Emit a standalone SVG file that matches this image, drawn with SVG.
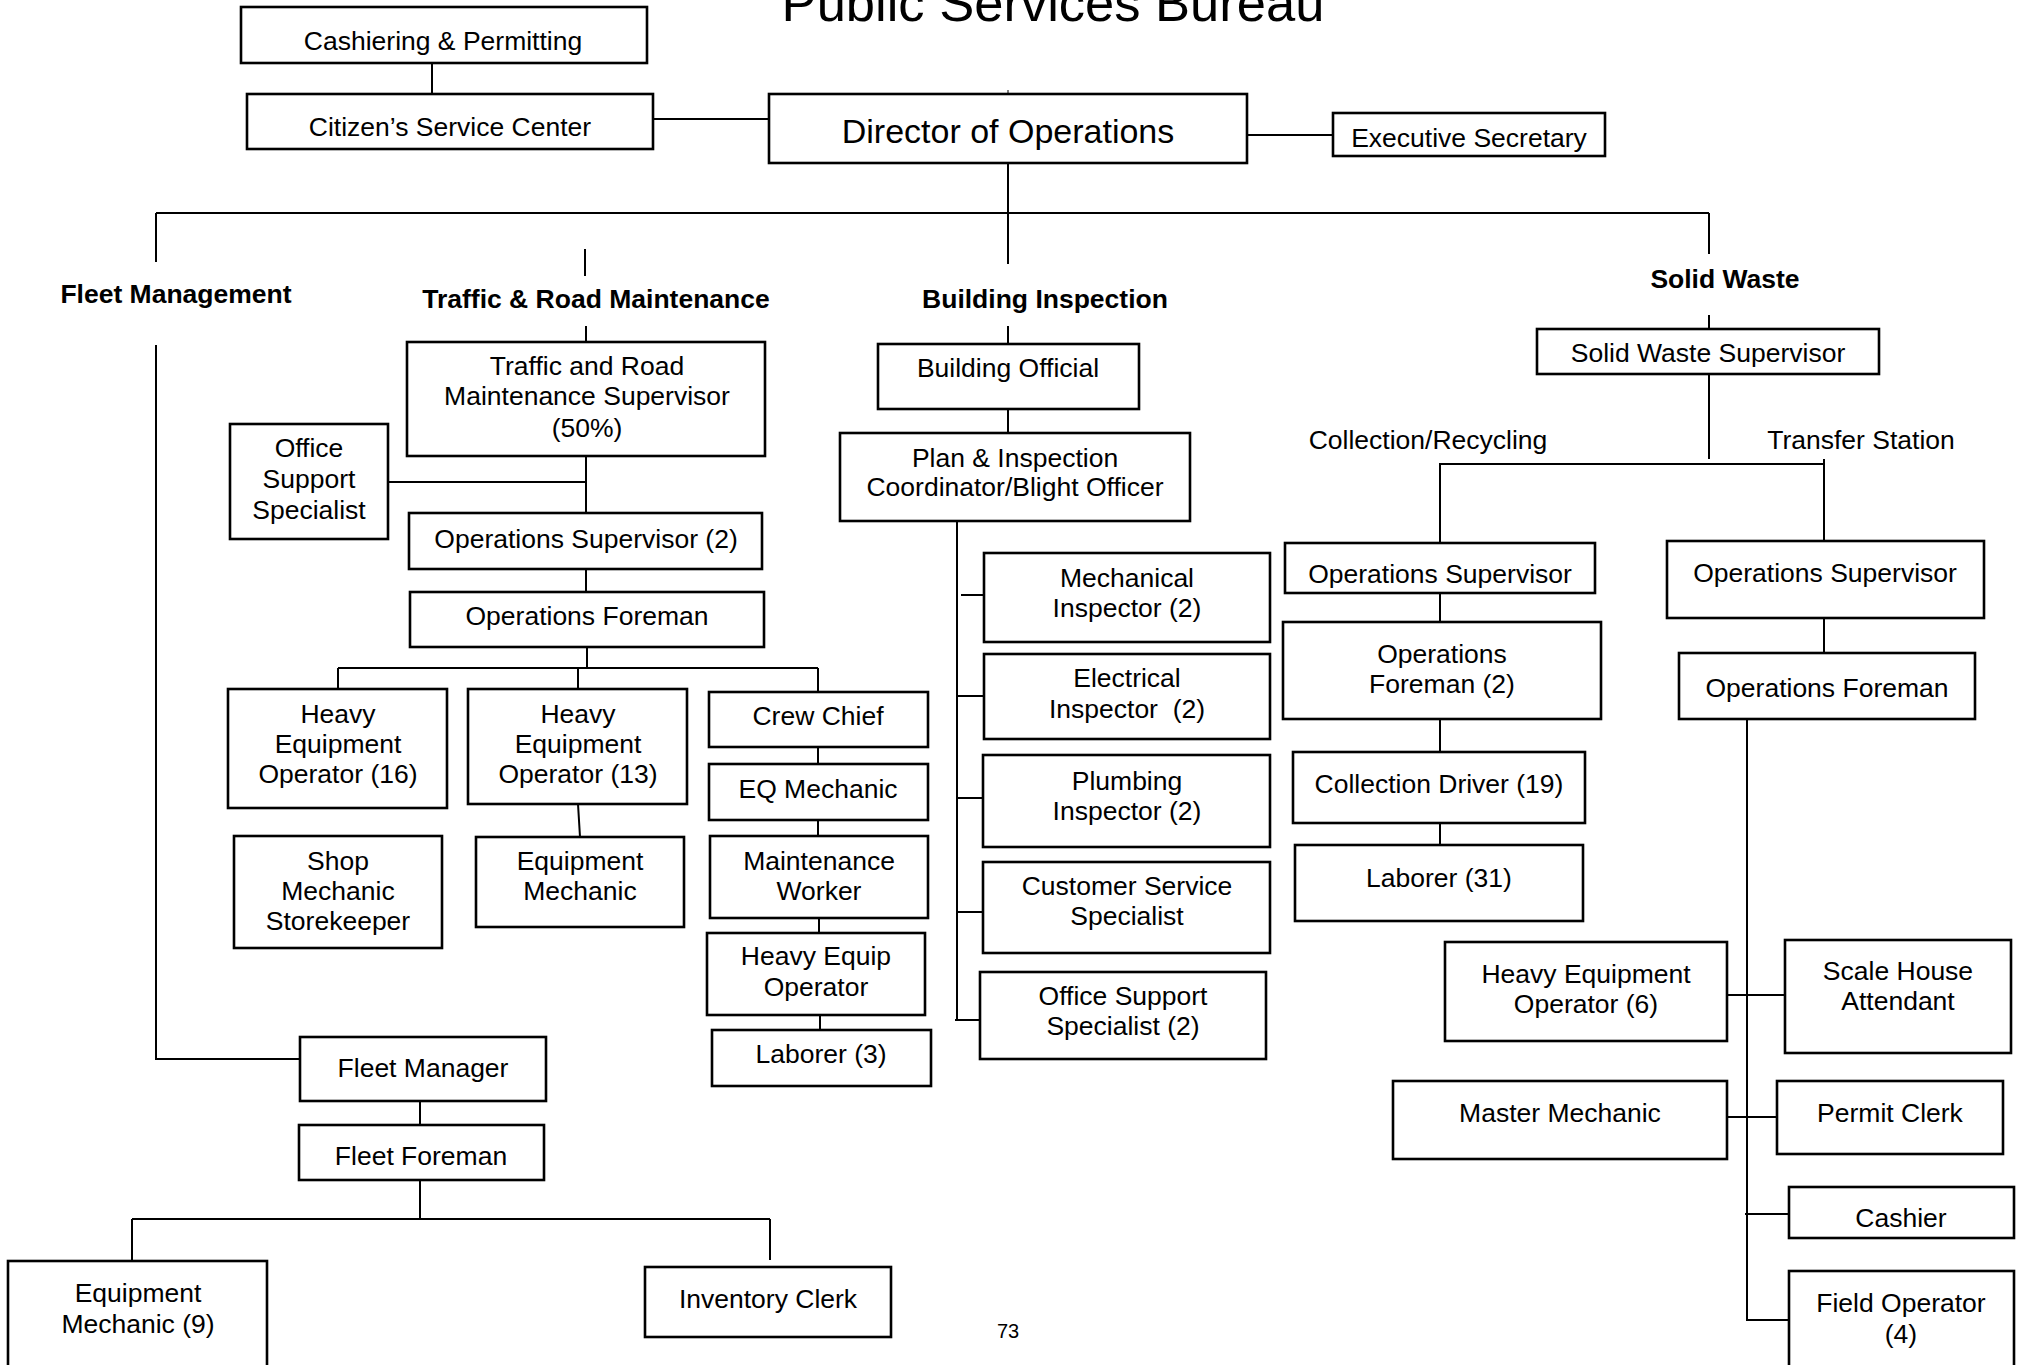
<svg xmlns="http://www.w3.org/2000/svg" width="2017" height="1365" viewBox="0 0 2017 1365">
<style>
.b{fill:#fff;stroke:#000;stroke-width:2.6}
.t{font-family:"Liberation Sans",Arial,sans-serif;font-size:26.5px;fill:#000;text-anchor:middle}
.h{font-family:"Liberation Sans",Arial,sans-serif;font-size:26.5px;font-weight:bold;fill:#000;text-anchor:middle}
.l{font-family:"Liberation Sans",Arial,sans-serif;font-size:26.5px;fill:#000;text-anchor:middle}
.c{fill:none;stroke:#000;stroke-width:2}
</style>
<rect width="2017" height="1365" fill="#fff"/>
<g id="connectors">
<path class="c" d="M432,63V94 M653,119H769 M1247,135H1333 M1008,163V264 M156,213H1709 M156,213V262 M156,345V1059H300 M585,249V276 M586,326V342 M1008,326V344 M1709,213V254 M1709,315V329"/>
<path class="c" d="M586,456V513 M388,482H586 M586,569V592 M587,647V668 M338,668H818 M338,668V689 M578,668V689 M818,668V692 M578,804L580,837 M818,747V764 M818,820V836 M819,918V933 M820,1015V1030"/>
<path class="c" d="M420,1101V1125 M420,1180V1219 M132,1219H770 M132,1219V1261 M770,1219V1260"/>
<path class="c" d="M1008,409V433 M957,521V1020 M961,595H984 M957,696H984 M957,798H983 M957,912H983 M955,1020H980"/>
<path class="c" d="M1709,374V459 M1439,464H1824 M1440,464V543 M1824,459V541 M1440,593V622 M1440,719V752 M1440,823V845 M1824,618V653 M1747,719V1320H1789 M1727,995H1785 M1727,1117H1777 M1745,1214H1789"/>
<path d="M1008,90V94" stroke="#000" stroke-width="1"/>
</g>
<g id="title"><text x="1053" y="21" style="font-family:'Liberation Sans',Arial,sans-serif;font-size:52.5px;text-anchor:middle">Public Services Bureau</text></g>
<g id="hdr-fleet"><text class="h" x="176" y="303">Fleet Management</text></g>
<g id="hdr-traffic"><text class="h" x="596" y="308">Traffic &amp; Road Maintenance</text></g>
<g id="hdr-building"><text class="h" x="1045" y="308">Building Inspection</text></g>
<g id="hdr-solid"><text class="h" x="1725" y="288">Solid Waste</text></g>
<g id="lbl-collection"><text class="l" x="1428" y="449">Collection/Recycling</text></g>
<g id="lbl-transfer"><text class="l" x="1861" y="449">Transfer Station</text></g>
<g id="n-cashiering"><rect class="b" x="241" y="7" width="406" height="56"/><text class="t" x="443" y="50">Cashiering &amp; Permitting</text></g>
<g id="n-citizen"><rect class="b" x="247" y="94" width="406" height="55"/><text class="t" x="450" y="136">Citizen’s Service Center</text></g>
<g id="n-director"><rect class="b" x="769" y="94" width="478" height="69"/><text class="t" x="1008" y="143" style="font-size:34px">Director of Operations</text></g>
<g id="n-exec"><rect class="b" x="1333" y="113" width="272" height="43"/><text class="t" x="1469" y="147">Executive Secretary</text></g>
<g id="n-trm-sup"><rect class="b" x="407" y="342" width="358" height="114"/><text class="t" x="587"><tspan x="587" y="375">Traffic and Road</tspan><tspan x="587" y="405">Maintenance Supervisor</tspan><tspan x="587" y="437">(50%)</tspan></text></g>
<g id="n-trm-oss"><rect class="b" x="230" y="424" width="158" height="115"/><text class="t"><tspan x="309" y="457">Office</tspan><tspan x="309" y="488">Support</tspan><tspan x="309" y="519">Specialist</tspan></text></g>
<g id="n-trm-opsup"><rect class="b" x="409" y="513" width="353" height="56"/><text class="t" x="586" y="548">Operations Supervisor (2)</text></g>
<g id="n-trm-opfor"><rect class="b" x="410" y="592" width="354" height="55"/><text class="t" x="587" y="625">Operations Foreman</text></g>
<g id="n-heo16"><rect class="b" x="228" y="689" width="219" height="119"/><text class="t"><tspan x="338" y="723">Heavy</tspan><tspan x="338" y="753">Equipment</tspan><tspan x="338" y="783">Operator (16)</tspan></text></g>
<g id="n-heo13"><rect class="b" x="468" y="689" width="219" height="115"/><text class="t"><tspan x="578" y="723">Heavy</tspan><tspan x="578" y="753">Equipment</tspan><tspan x="578" y="783">Operator (13)</tspan></text></g>
<g id="n-crew"><rect class="b" x="709" y="692" width="219" height="55"/><text class="t" x="818" y="725">Crew Chief</text></g>
<g id="n-eqmech"><rect class="b" x="709" y="764" width="219" height="56"/><text class="t" x="818" y="798">EQ Mechanic</text></g>
<g id="n-maint"><rect class="b" x="710" y="836" width="218" height="82"/><text class="t"><tspan x="819" y="870">Maintenance</tspan><tspan x="819" y="900">Worker</tspan></text></g>
<g id="n-heqop"><rect class="b" x="707" y="933" width="218" height="82"/><text class="t"><tspan x="816" y="965">Heavy Equip</tspan><tspan x="816" y="996">Operator</tspan></text></g>
<g id="n-lab3"><rect class="b" x="712" y="1030" width="219" height="56"/><text class="t" x="821" y="1063">Laborer (3)</text></g>
<g id="n-shop"><rect class="b" x="234" y="836" width="208" height="112"/><text class="t"><tspan x="338" y="870">Shop</tspan><tspan x="338" y="900">Mechanic</tspan><tspan x="338" y="930">Storekeeper</tspan></text></g>
<g id="n-equipmech"><rect class="b" x="476" y="837" width="208" height="90"/><text class="t"><tspan x="580" y="870">Equipment</tspan><tspan x="580" y="900">Mechanic</tspan></text></g>
<g id="n-fleetmgr"><rect class="b" x="300" y="1037" width="246" height="64"/><text class="t" x="423" y="1077">Fleet Manager</text></g>
<g id="n-fleetfor"><rect class="b" x="299" y="1125" width="245" height="55"/><text class="t" x="421" y="1165">Fleet Foreman</text></g>
<g id="n-equipmech9"><rect class="b" x="8" y="1261" width="259" height="120"/><text class="t"><tspan x="138" y="1302">Equipment</tspan><tspan x="138" y="1333">Mechanic (9)</tspan></text></g>
<g id="n-inventory"><rect class="b" x="645" y="1267" width="246" height="70"/><text class="t" x="768" y="1308">Inventory Clerk</text></g>
<g id="page"><text x="1008" y="1338" style="font-family:'Liberation Sans',Arial,sans-serif;font-size:20px;text-anchor:middle">73</text></g>
<g id="n-bldgoff"><rect class="b" x="878" y="344" width="261" height="65"/><text class="t" x="1008" y="377">Building Official</text></g>
<g id="n-plan"><rect class="b" x="840" y="433" width="350" height="88"/><text class="t"><tspan x="1015" y="467">Plan &amp; Inspection</tspan><tspan x="1015" y="496">Coordinator/Blight Officer</tspan></text></g>
<g id="n-mech"><rect class="b" x="984" y="553" width="286" height="89"/><text class="t"><tspan x="1127" y="587">Mechanical</tspan><tspan x="1127" y="617">Inspector (2)</tspan></text></g>
<g id="n-elec"><rect class="b" x="984" y="654" width="286" height="85"/><text class="t" xml:space="preserve"><tspan x="1127" y="687">Electrical</tspan><tspan x="1127" y="718">Inspector  (2)</tspan></text></g>
<g id="n-plumb"><rect class="b" x="983" y="755" width="287" height="92"/><text class="t"><tspan x="1127" y="790">Plumbing</tspan><tspan x="1127" y="820">Inspector (2)</tspan></text></g>
<g id="n-cust"><rect class="b" x="983" y="862" width="287" height="91"/><text class="t"><tspan x="1127" y="895">Customer Service</tspan><tspan x="1127" y="925">Specialist</tspan></text></g>
<g id="n-bi-oss"><rect class="b" x="980" y="972" width="286" height="87"/><text class="t"><tspan x="1123" y="1005">Office Support</tspan><tspan x="1123" y="1035">Specialist (2)</tspan></text></g>
<g id="n-swsup"><rect class="b" x="1537" y="329" width="342" height="45"/><text class="t" x="1708" y="362">Solid Waste Supervisor</text></g>
<g id="n-cr-opsup"><rect class="b" x="1285" y="543" width="310" height="50"/><text class="t" x="1440" y="583">Operations Supervisor</text></g>
<g id="n-ts-opsup"><rect class="b" x="1667" y="541" width="317" height="77"/><text class="t" x="1825" y="582">Operations Supervisor</text></g>
<g id="n-cr-opfor"><rect class="b" x="1283" y="622" width="318" height="97"/><text class="t"><tspan x="1442" y="663">Operations</tspan><tspan x="1442" y="693">Foreman (2)</tspan></text></g>
<g id="n-coldrv"><rect class="b" x="1293" y="752" width="292" height="71"/><text class="t" x="1439" y="793">Collection Driver (19)</text></g>
<g id="n-lab31"><rect class="b" x="1295" y="845" width="288" height="76"/><text class="t" x="1439" y="887">Laborer (31)</text></g>
<g id="n-ts-opfor"><rect class="b" x="1679" y="653" width="296" height="66"/><text class="t" x="1827" y="697">Operations Foreman</text></g>
<g id="n-heo6"><rect class="b" x="1445" y="942" width="282" height="99"/><text class="t"><tspan x="1586" y="983">Heavy Equipment</tspan><tspan x="1586" y="1013">Operator (6)</tspan></text></g>
<g id="n-scale"><rect class="b" x="1785" y="940" width="226" height="113"/><text class="t"><tspan x="1898" y="980">Scale House</tspan><tspan x="1898" y="1010">Attendant</tspan></text></g>
<g id="n-master"><rect class="b" x="1393" y="1081" width="334" height="78"/><text class="t" x="1560" y="1122">Master Mechanic</text></g>
<g id="n-permit"><rect class="b" x="1777" y="1081" width="226" height="73"/><text class="t" x="1890" y="1122">Permit Clerk</text></g>
<g id="n-cashier"><rect class="b" x="1789" y="1187" width="225" height="51"/><text class="t" x="1901" y="1227">Cashier</text></g>
<g id="n-field"><rect class="b" x="1789" y="1271" width="225" height="110"/><text class="t"><tspan x="1901" y="1312">Field Operator</tspan><tspan x="1901" y="1343">(4)</tspan></text></g>
</svg>
